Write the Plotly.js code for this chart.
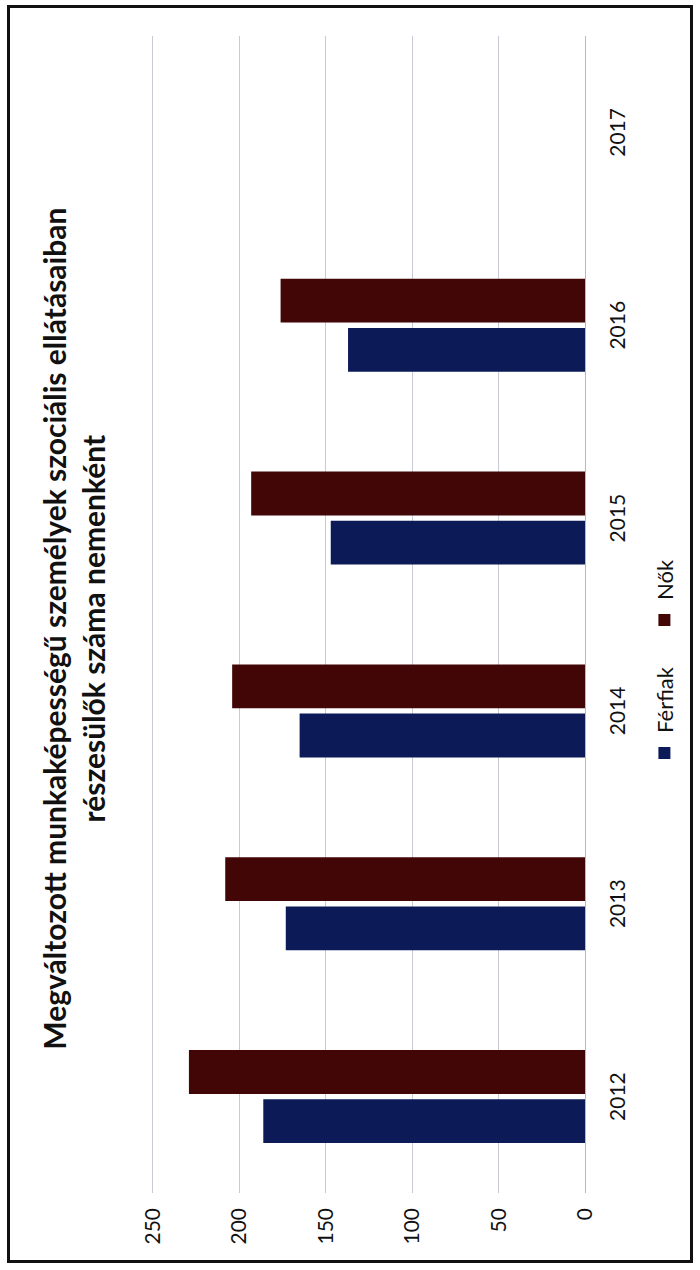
<!DOCTYPE html>
<html>
<head>
<meta charset="utf-8">
<script src="https://cdn.plot.ly/plotly-3.0.1.min.js"></script>
<style>
  html, body { margin: 0; padding: 0; width: 700px; height: 1270px; overflow: hidden; background: #fff; }
  #wrap { position: absolute; left: -285px; top: 285px; width: 1270px; height: 700px;
          transform: rotate(-90deg); transform-origin: 50% 50%; background: #fff; }
  #frame { position: absolute; left: 7px; top: 7px; width: 1252px; height: 680px;
           border: 3px solid #111; pointer-events: none; }
  #chart { position: absolute; left: 0; top: 0; width: 1270px; height: 700px; }
</style>
</head>
<body>
<div id="wrap">
  <div id="chart"></div>
  <div id="frame"></div>
</div>
<script>
const years = ['2012', '2013', '2014', '2015', '2016', '2017'];
const ferfiak = [186, 173, 165, 147, 137, null];
const nok = [229, 208, 204, 193, 176, null];
const valueTicks = [0, 50, 100, 150, 200, 250];

const FONT = 'Lato, "Open Sans", "Liberation Sans", sans-serif';

const traces = [
  { type: 'bar', name: 'Férfiak', x: years, y: ferfiak, marker: { color: '#0c1a57' }, hoverinfo: 'x+y' },
  { type: 'bar', name: 'Nők', x: years, y: nok, marker: { color: '#430606' }, hoverinfo: 'x+y' }
];

const layout = {
  width: 1270, height: 700,
  margin: { l: 77, r: 36, t: 150, b: 115 },
  paper_bgcolor: 'rgba(0,0,0,0)', plot_bgcolor: 'rgba(0,0,0,0)',
  font: { family: FONT, color: '#111', size: 20 },
  title: {
    text: '<b>Megváltozott munkaképességű személyek szociális ellátásaiban<br>részesülők száma nemenként</b>',
    font: { family: FONT, size: 30, color: '#111' },
    x: 0.505, xref: 'container', xanchor: 'center',
    y: 1 - 66 / 700, yref: 'container', yanchor: 'top'
  },
  barmode: 'group', bargap: 0.49, bargroupgap: 0.11,
  xaxis: {
    type: 'category', categoryorder: 'array', categoryarray: years,
    range: [-0.5, 5.5], showgrid: false, showline: true, linecolor: '#b8b8bd', linewidth: 1,
    ticks: '', ticklabelstandoff: 14, tickfont: { size: 21, family: FONT }
  },
  yaxis: {
    range: [0, 251.5], tickvals: valueTicks, ticktext: valueTicks.map(String),
    showgrid: true, gridcolor: '#c9cad6', gridwidth: 1, zeroline: false, showline: false,
    ticks: '', ticklabelstandoff: 14, tickfont: { size: 21, family: FONT }
  },
  showlegend: true,
  legend: {
    orientation: 'h', x: 0.478, xanchor: 'center', y: -0.183, yanchor: 'middle',
    entrywidth: 88, entrywidthmode: 'pixels',
    font: { size: 22, family: FONT }, bgcolor: 'rgba(0,0,0,0)'
  }
};

Plotly.newPlot('chart', traces, layout, { staticPlot: true });
</script>
</body>
</html>
